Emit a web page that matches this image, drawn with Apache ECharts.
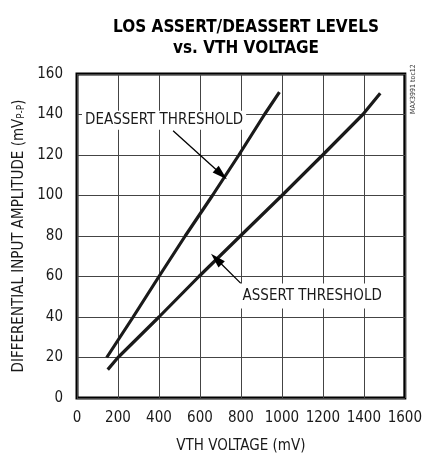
<!DOCTYPE html>
<html>
<head>
<meta charset="utf-8">
<script src="https://cdn.jsdelivr.net/npm/echarts@6/dist/echarts.min.js"></script>
<style>
  html, body { margin: 0; padding: 0; background: #fff; }
  #main { width: 425px; height: 459px; }
</style>
</head>
<body>
<div id="main"></div>
<script>
// 坐标轴刻度
const xTicks = { min: 0, max: 1600, interval: 200 }
const yTicks = { min: 0, max: 160, interval: 20 }

// deassert threshold curve (mV vs mVp-p)
const deassertX = [145, 274, 400, 528, 661, 790, 915, 988]
const deassertY = [20, 40, 60, 80, 100, 120, 140, 151]

// assert threshold curve
const assertX = [150, 200, 400, 595, 797, 1000, 1199, 1395, 1480]
const assertY = [14, 20, 40, 60, 80, 100, 120, 140, 150.5]

const FONT = "'Liberation Sans Narrow', 'DejaVu Sans Condensed', 'Liberation Sans', sans-serif"
const INK = '#1a1a1a'

function pairs(xs, ys) {
  return xs.map((x, i) => [x, ys[i]])
}

let chart = echarts.init(document.getElementById('main'))

chart.setOption({
  animation: false,
  title: {
    text: 'LOS ASSERT/DEASSERT LEVELS\nvs. VTH VOLTAGE',
    left: 241,
    top: 12,
    textAlign: 'center',
    textStyle: {
      fontFamily: FONT,
      fontWeight: 'bold',
      fontSize: 17,
      lineHeight: 21,
      color: '#000'
    }
  },
  grid: {
    show: true,
    left: 77,
    right: 19,
    top: 74,
    bottom: 56,
    borderColor: '#000',
    borderWidth: 3,
    backgroundColor: 'transparent'
  },
  xAxis: {
    type: 'value',
    min: xTicks.min,
    max: xTicks.max,
    interval: xTicks.interval,
    name: 'VTH VOLTAGE (mV)',
    nameLocation: 'middle',
    nameGap: 41,
    nameTextStyle: { fontFamily: FONT, fontSize: 15, color: INK },
    axisLine: { show: false },
    axisTick: { show: false },
    axisLabel: {
      fontFamily: FONT, fontSize: 15, color: INK, margin: 13,
      formatter: v => String(v)
    },
    splitLine: { show: true, lineStyle: { color: '#444', width: 1 } }
  },
  yAxis: {
    type: 'value',
    min: yTicks.min,
    max: yTicks.max,
    interval: yTicks.interval,
    name: 'DIFFERENTIAL INPUT AMPLITUDE (mV{s|P-P})',
    nameLocation: 'middle',
    nameGap: 50,
    nameTextStyle: {
      fontFamily: FONT, fontSize: 15, color: INK,
      rich: { s: { fontFamily: FONT, fontSize: 10, color: INK, verticalAlign: 'bottom' } }
    },
    axisLine: { show: false },
    axisTick: { show: false },
    axisLabel: { fontFamily: FONT, fontSize: 15, color: INK, margin: 14 },
    splitLine: { show: true, lineStyle: { color: '#444', width: 1 } }
  },
  series: [
    {
      name: 'DEASSERT THRESHOLD',
      type: 'line',
      showSymbol: false,
      data: pairs(deassertX, deassertY),
      lineStyle: { color: INK, width: 3.2 },
      markLine: {
        silent: true,
        symbol: ['none', 'triangle'],
        symbolSize: [9, 15],
        label: { show: false },
        lineStyle: { color: '#000', width: 1.3, type: 'solid' },
        data: [[{ coord: [469, 132] }, { coord: [704, 110.5] }]]
      }
    },
    {
      name: 'ASSERT THRESHOLD',
      type: 'line',
      showSymbol: false,
      data: pairs(assertX, assertY),
      lineStyle: { color: INK, width: 3.2 },
      markLine: {
        silent: true,
        symbol: ['none', 'triangle'],
        symbolSize: [9, 15],
        label: { show: false },
        lineStyle: { color: '#000', width: 1.3, type: 'solid' },
        data: [[{ coord: [801, 56.5] }, { coord: [680, 68.6] }]]
      }
    }
  ]
})

// 注释文字 (放在数据坐标上)
let p1 = chart.convertToPixel({ gridIndex: 0 }, [39, 137.4])
let p2 = chart.convertToPixel({ gridIndex: 0 }, [808, 50.6])

chart.setOption({
  graphic: [
    {
      type: 'text',
      left: p1[0] - 3,
      top: p1[1] - 9,
      z: 100,
      style: {
        text: 'DEASSERT THRESHOLD',
        font: '15px ' + FONT,
        fill: INK,
        backgroundColor: '#fff',
        padding: [2, 3]
      }
    },
    {
      type: 'text',
      left: p2[0] - 3,
      top: p2[1] - 12,
      z: 100,
      style: {
        text: 'ASSERT THRESHOLD',
        font: '15px ' + FONT,
        fill: INK,
        backgroundColor: '#fff',
        padding: [5, 3]
      }
    },
    {
      type: 'text',
      x: 410,
      y: 114,
      rotation: Math.PI / 2,
      z: 100,
      style: {
        text: 'MAX3991 toc12',
        font: '7px ' + FONT,
        fill: '#333'
      }
    }
  ]
})
</script>
</body>
</html>
